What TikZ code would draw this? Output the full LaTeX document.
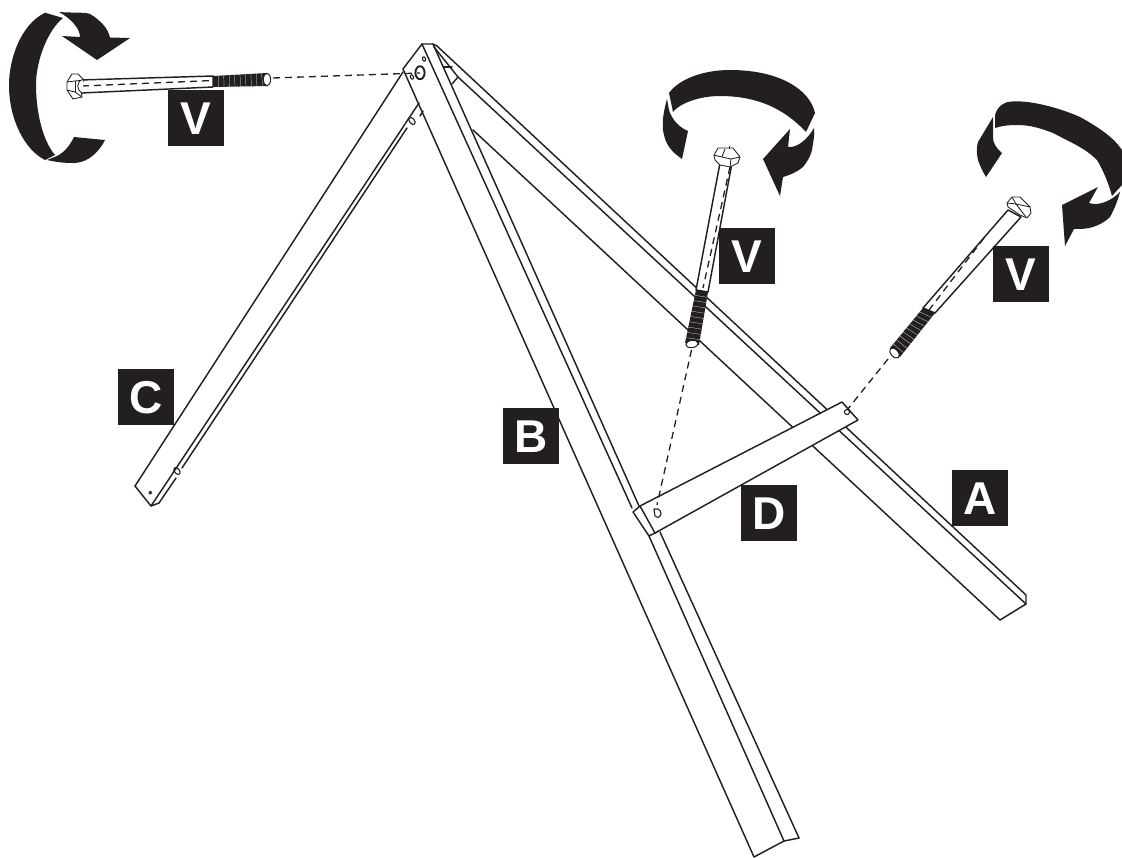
\documentclass[tikz,border=0pt]{standalone}
\usepackage{fontspec}
\setmainfont{Liberation Sans}
\usetikzlibrary{calc}
\definecolor{ink}{HTML}{231F20}
\tikzset{
  line/.style={draw=ink,line width=1.45pt,line cap=round,line join=round},
  thin line/.style={draw=ink,line width=1.1pt,line join=round},
  head line/.style={draw=ink,line width=.85pt,line join=round},
  solid fill/.style={fill=ink,draw=none},
  hidden line/.style={draw=ink,line width=1.3pt,dash pattern=on 7pt off 5pt},
  lab/.style={fill=ink,text=white,minimum width=56pt,minimum height=56pt,inner sep=0pt,font=\fontsize{46}{46}\selectfont\bfseries,text height=33pt,text depth=0pt,align=center},
  paper/.style={fill=white,line}
}
\newcommand{\threads}[4]{%
  \fill[ink] (#1) -- (#2) -- (#3) -- (#4) -- cycle;
  \foreach \t in {0.1,0.2,...,0.95}
    \draw[white,line width=.22pt] ($(#1)!\t!(#4)$) -- ($(#2)!\t!(#3)$);
}
\begin{document}
\begin{tikzpicture}[x=1pt,y=-1pt]
\useasboundingbox (0,0) rectangle (1122,857);
% leg C
\draw[line] (135,486) -- (403,72);
\draw[line] (135,486) -- (151,506) -- (159,503);
\draw[line] (151,506) -- (419,103);
\draw[line] (159,503) -- (176,478);
\draw[line] (182,468) -- (407,128);
\draw[line] (420,116) -- (423,111);
\draw[thin line] (177,471) ellipse[x radius=4,y radius=2.5,rotate=-50];
\draw[thin line] (412,121) ellipse[x radius=4,y radius=2.5,rotate=-50];
\draw[thin line] (150.3,492.7) circle (1.4);
% leg A
\draw[line] (437,46) -- (1026,595) -- (1026,604);
\draw[line] (434,47) -- (458,77) -- (1026,604) -- (1000,620) -- (473,130);
\draw[line] (444,67) -- (452,67);
\draw[line] (452,84) -- (458,77);
% leg B
\draw[line] (422,44) -- (433,44) -- (437,46);
\draw[line] (403,69) -- (422,44);
\draw[line] (403,69) -- (754,857) -- (784,841) -- (799,838);
\draw[line] (422,44) -- (632,508);
\draw[line] (649,536) -- (784,841);
\draw[line] (433,44) -- (639,506);
\draw[line] (660,532) -- (799,838);
\draw[line,line width=1.9pt] (420,72.7) ellipse[x radius=4.6,y radius=6.5];
\draw[thin line] (412,77) ellipse[x radius=1.5,y radius=2.3,rotate=20];
\draw[thin line] (424,59) ellipse[x radius=1.5,y radius=2.3,rotate=20];
% brace D
\draw[paper] (633,512) -- (640,506) -- (657,532) -- (649,536) -- cycle;
\draw[paper] (640,506) -- (842,402) -- (858,420) -- (655,533) -- cycle;
\draw[thin line] (654,509) -- (658,509) .. controls (662,511) and (662,516) .. (658,517.5) -- (655,516) -- cycle;
\draw[thin line] (847,412) circle (2.6);
% bolt 1
\coordinate (h1) at (82,86); \coordinate (e1) at (267,79); \coordinate (t1) at (420,73);
\draw[paper] (80,80) -- (213,76) -- (213,87) -- (81,93) .. controls (76,90) and (76,83) .. (80,80) -- cycle;
\draw[hidden line] (h1) -- (213,80.5);
\threads{213,76}{213,87}{268,86}{267,73}
\draw[line,fill=white,line width=1pt] (267,79.5) ellipse[x radius=3.6,y radius=6.3];
\draw[hidden line] (273,78) -- (t1);
\draw[head line,fill=white] (67,82) -- (72,74) -- (78,74) -- (84,80) -- (81,85) -- (81,90) -- (82,97) -- (73,99) -- (67,90) -- cycle;
\draw[head line] (67,82) -- (75,81) -- (84,80);
\draw[head line] (67,90) -- (75,92) -- (82,97);
\draw[head line] (75,81) -- (75,92);
\draw[head line,fill=white] (83,79.5) .. controls (76,81) and (76,91) .. (83,93.2);
% bolt 2
\draw[paper] (720,163) -- (732,163) -- (708,292) -- (696,290) -- cycle;
\draw[hidden line] (730,167) -- (703,288);
\threads{696,290}{708,292}{699,345}{685,343}
\draw[line,fill=white,line width=1pt] (692,344) ellipse[x radius=6.2,y radius=3.6,rotate=8];
\draw[hidden line] (691.5,350) -- (657,505);
\draw[head line,fill=white] (714,155) -- (718,148) -- (733,148) -- (740,157) -- (738,163) -- (730,167) -- (720,165) -- (715,160) -- cycle;
\draw[head line] (714,155) -- (722,157) -- (731,159) -- (740,157);
\draw[head line] (722,157) -- (725,149);
\draw[head line] (731,159) -- (730,167);
\draw[head line] (729,146) -- (729,149);
% bolt 3
\draw[paper] (1008,210) -- (1021,217) -- (935,313) -- (923,308) -- cycle;
\draw[hidden line] (984,238) -- (929,310);
\threads{923,308}{935,313}{900,357}{890,348}
\draw[line,fill=white,line width=1pt] (894.5,353) ellipse[x radius=6,y radius=3.6,rotate=-48];
\draw[hidden line] (888,359) -- (847,410);
\draw[head line,fill=white] (1007,203) -- (1012,197) -- (1020,197) -- (1030,207) -- (1031,213) -- (1027,218) -- (1020,215) -- (1008,207) -- cycle;
\draw[head line] (1007,203) -- (1016,204) -- (1030,207);
\draw[head line] (1016,204) -- (1026,217);
\draw[head line] (1016,204) -- (1012,197);
% turning arrows: 1
\path[solid fill] (45,12.7) .. controls (20,25) and (9,60) .. (9,85) .. controls (9,120) and (25,150) .. (45,160) -- (55,155) .. controls (42,140) and (36,110) .. (36,85) .. controls (36,60) and (48,30) .. (63,18) -- cycle;
\path[solid fill] (47,160) .. controls (60,163) and (68,163) .. (75,163) .. controls (90,162) and (100,150) .. (105,140) -- (74,137) .. controls (70,145) and (65,152) .. (57,156) -- cycle;
\path[solid fill] (59,12) .. controls (72,13) and (85,12) .. (90,14) .. controls (100,20) and (108,28) .. (110,37.5) -- (130,38) -- (97,60) -- (62,36) -- (80,37) .. controls (80,28) and (70,18) .. (59,12) -- cycle;
% turning arrows: 2
\path[solid fill] (669,93) .. controls (680,78) and (705,70) .. (730,70) .. controls (780,70) and (810,90) .. (815,113) -- (806,132) .. controls (790,115) and (765,96) .. (720,96) .. controls (700,96) and (680,103) .. (673,112) -- cycle;
\path[solid fill] (667,99) .. controls (664,110) and (662,120) .. (663,130) .. controls (665,145) and (672,152) .. (682,159) -- (688,131) .. controls (680,128) and (672,120) .. (669,110) -- cycle;
\path[solid fill] (814,128) .. controls (815,135) and (813,143) .. (812,150) .. controls (810,158) and (806,163) .. (803,167) .. controls (797,172) and (790,175) .. (783,177) -- (780,196) -- (763,159) -- (790,129) -- (788,147) .. controls (797,148) and (807,140) .. (814,128) -- cycle;
% turning arrows: 3
\path[solid fill] (995,115) .. controls (998,106) and (1003,102) .. (1012,101.5) .. controls (1030,100) and (1060,108) .. (1080,117) .. controls (1100,128) and (1114,138) .. (1122,150) -- (1122,185) -- (1112,196) .. controls (1108,182) and (1104,172) .. (1097,160) .. controls (1085,148) and (1070,142) .. (1053,133) .. controls (1040,128) and (1030,125) .. (1017,125) .. controls (1008,125) and (1001,126) .. (995,128) -- cycle;
\path[solid fill] (993,117) -- (978,142) .. controls (976,150) and (977,155) .. (978,160) .. controls (980,166) and (983,172) .. (986,177) -- (1002,153) .. controls (996,148) and (993,143) .. (993,137) -- cycle;
\path[solid fill] (1120,192) .. controls (1118,200) and (1114,210) .. (1110,217) .. controls (1105,222) and (1099,225) .. (1093,227) .. controls (1087,229) and (1080,229) .. (1074,229) -- (1065,246) -- (1062,205) -- (1098,187) -- (1089,203) .. controls (1098,206) and (1110,202) .. (1120,192) -- cycle;
% labels
\node[lab] (v1) at (196,118) {V};
\node[lab] (v2) at (747,256) {V};
\node[lab] (v3) at (1020.5,274) {V};
\node[lab] (la) at (980,498) {A};
\node[lab] (lb) at (531,436) {B};
\node[lab] (lc) at (146,397) {C};
\node[lab] (ld) at (769,513) {D};
\end{tikzpicture}
\end{document}
